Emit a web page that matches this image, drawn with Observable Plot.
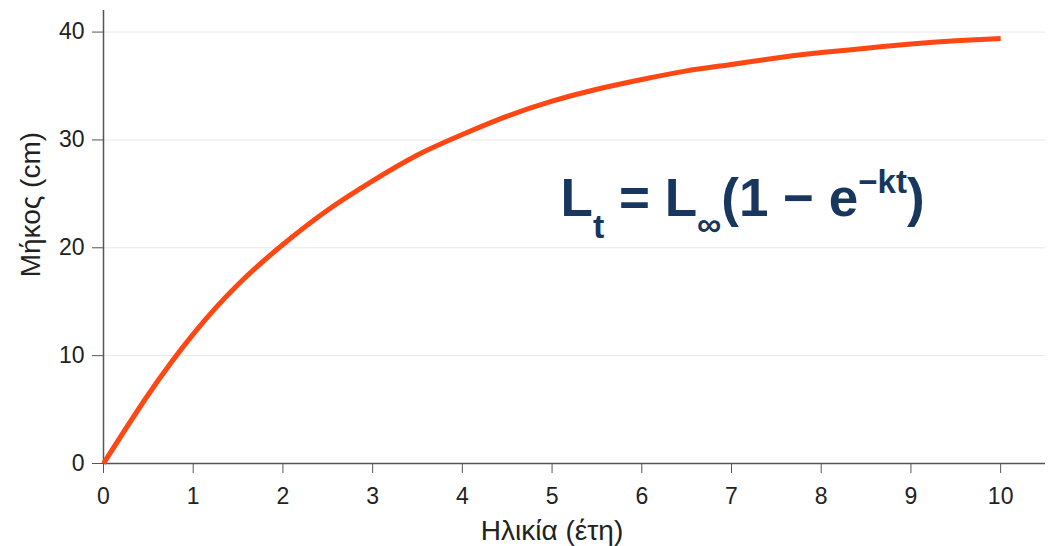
<!DOCTYPE html>
<html>
<head>
<meta charset="utf-8">
<script src="https://cdn.jsdelivr.net/npm/d3@7"></script>
<script src="https://cdn.jsdelivr.net/npm/@observablehq/plot@0.6"></script>
<style>
  html, body { margin: 0; padding: 0; background: #fff; }
  #chart svg { font-family: "Liberation Sans", Arial, sans-serif; }
</style>
</head>
<body>
<div id="chart"></div>
<script>
// Age in years (x) and length in cm (y)
const ages    = [0, 0.5, 1, 1.5, 2, 2.5, 3, 3.5, 4, 4.5, 5, 5.5, 6, 6.5, 7, 7.5, 8, 8.5, 9, 9.5, 10];
const lengths = [0, 6.4, 12.0, 16.6, 20.3, 23.5, 26.2, 28.6, 30.5, 32.2, 33.6, 34.7, 35.6, 36.4, 37.0, 37.6, 38.1, 38.5, 38.9, 39.2, 39.4];
const xTicks = [0, 1, 2, 3, 4, 5, 6, 7, 8, 9, 10];
const yTicks = [0, 10, 20, 30, 40];
const xLabel = "Ηλικία (έτη)";
const yLabel = "Μήκος (cm)";

const data = ages.map((a, i) => ({age: a, len: lengths[i]}));

const axisColor = "#555";
const textColor = "#222";

const plot = Plot.plot({
  width: 1053,
  height: 546,
  marginLeft: 103,
  marginRight: 8,
  marginTop: 10,
  marginBottom: 83,
  style: {fontFamily: "Liberation Sans, Arial, sans-serif", background: "#fff"},
  x: {domain: [0, 10.5]},
  y: {domain: [0, 42]},
  marks: [
    Plot.gridY(yTicks.slice(1), {stroke: "#e8e8e8", strokeOpacity: 1, strokeWidth: 1}),
    Plot.ruleX([0], {stroke: axisColor, strokeWidth: 1.5}),
    Plot.ruleY([0], {stroke: axisColor, strokeWidth: 1.5}),
    Plot.axisX({ticks: xTicks, tickSize: 10, tickPadding: 14, fontSize: 23, stroke: axisColor, fill: textColor, label: null, tickFormat: d => String(d)}),
    Plot.axisY({ticks: yTicks, tickSize: 11, tickPadding: 8, fontSize: 23, stroke: axisColor, fill: textColor, label: null, tickFormat: d => String(d)}),
    Plot.line(data, {x: "age", y: "len", stroke: "#ff4713", strokeWidth: 5, curve: "natural", strokeLinecap: "butt"}),
    Plot.text([xLabel], {x: 5, frameAnchor: "bottom", dy: 68, lineAnchor: "middle", fontSize: 28, fill: textColor}),
    Plot.text([yLabel], {y: 24, frameAnchor: "left", dx: -72, rotate: -90, lineAnchor: "middle", textAnchor: "middle", fontSize: 28, fill: textColor})
  ]
});

// Equation annotation placed in data coordinates
const sx = plot.scale("x"), sy = plot.scale("y");
const eq = d3.select(plot).append("text")
  .attr("x", sx.apply(5.1))
  .attr("y", sy.apply(22.9))
  .attr("text-anchor", "start")
  .attr("font-family", "Liberation Sans, Arial, sans-serif")
  .attr("font-weight", "bold")
  .attr("font-size", 53)
  .attr("fill", "#17375e");
eq.append("tspan").text("L");
eq.append("tspan").attr("font-size", 34).attr("dy", 22).text("t");
eq.append("tspan").attr("dy", -22).text(" = L");
eq.append("tspan").attr("font-size", 34).attr("dy", 20).text("∞");
eq.append("tspan").attr("dy", -20).text("(1 − e");
eq.append("tspan").attr("font-size", 33).attr("dy", -23).text("−kt");
eq.append("tspan").attr("dy", 23).text(")");

document.getElementById("chart").appendChild(plot);
</script>
</body>
</html>
